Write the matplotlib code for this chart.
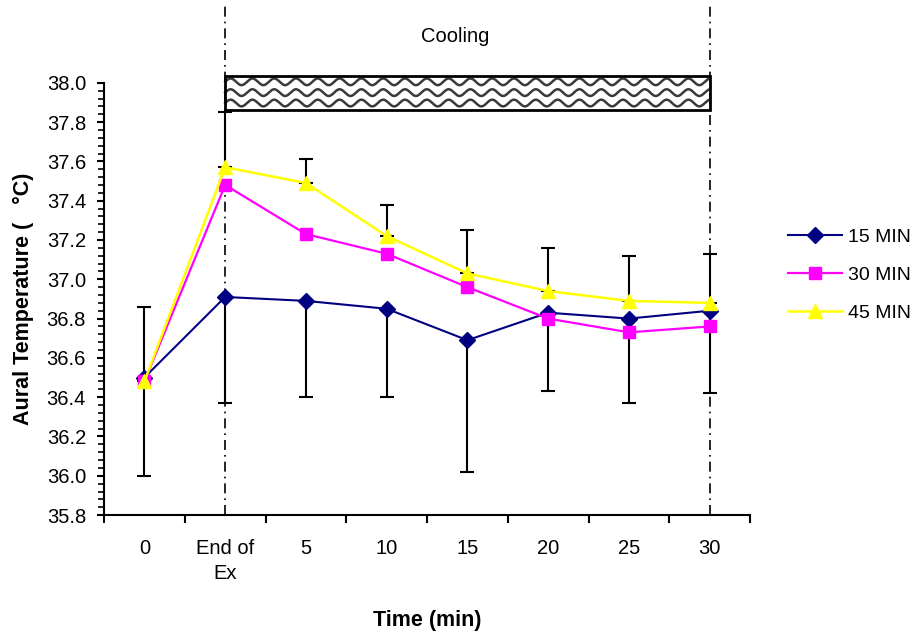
import numpy as np
import matplotlib
matplotlib.use("Agg")
import matplotlib.pyplot as plt
from matplotlib.patches import Rectangle

plt.rcParams['font.family'] = ['Liberation Sans', 'DejaVu Sans']

# Time points (categorical)
categories = ["0", "End of\nEx", "5", "10", "15", "20", "25", "30"]

# Aural temperature means (°C) for each cooling duration
temp_15 = [36.50, 36.91, 36.89, 36.85, 36.69, 36.83, 36.80, 36.84]
temp_30 = [36.48, 37.48, 37.23, 37.13, 36.96, 36.80, 36.73, 36.76]
temp_45 = [36.48, 37.57, 37.49, 37.22, 37.03, 36.94, 36.89, 36.88]

# Error bar ends: upper bars on 45 MIN, lower bars on 15 MIN
upper_45 = [36.86, 37.85, 37.61, 37.38, 37.25, 37.16, 37.12, 37.13]
lower_15 = [36.00, 36.37, 36.40, 36.40, 36.02, 36.43, 36.37, 36.42]

# Cooling period (category indices) and shaded band limits
cool_start, cool_end = 1, 7
band_low, band_high = 37.86, 38.035

x = np.arange(len(categories))

fig = plt.figure(figsize=(9.15, 6.32), dpi=100)
ax = fig.add_axes([0.1137, 0.185, 0.706, 0.684])

# error bars (drawn beneath the series)
up = np.array(upper_45) - np.array(temp_45)
ax.errorbar(x, temp_45, yerr=[np.zeros_like(up), up], fmt='none',
            ecolor='black', elinewidth=1.5, capsize=5, capthick=1.5, zorder=2)
dn = np.array(temp_15) - np.array(lower_15)
ax.errorbar(x, temp_15, yerr=[dn, np.zeros_like(dn)], fmt='none',
            ecolor='black', elinewidth=1.5, capsize=5, capthick=1.5, zorder=2)

l15, = ax.plot(x, temp_15, color='#000080', lw=1.5, marker='D', ms=8.5,
               mec='#000080', mfc='#000080', label='15 MIN', zorder=4)
l30, = ax.plot(x, temp_30, color='#FF00FF', lw=1.6, marker='s', ms=8,
               mec='#FF00FF', mfc='#FF00FF', label='30 MIN', zorder=4)
l45, = ax.plot(x, temp_45, color='#FFFF00', lw=1.8, marker='^', ms=10,
               mec='#FFFF00', mfc='#FFFF00', label='45 MIN', zorder=5)

ax.set_xlim(-0.5, len(categories) - 0.5)
ax.set_ylim(35.8, 38.0)

# cooling period markers
top_y = 38.40
for xv in (cool_start, cool_end):
    ax.plot([xv, xv], [35.8, top_y], color='black', lw=1.2,
            ls=(0, (6, 3, 1, 3)), clip_on=False, zorder=3)

ax.add_patch(Rectangle((cool_start, band_low), cool_end - cool_start,
                       band_high - band_low, fill=False, ec='black', lw=2,
                       clip_on=False, zorder=6))
# wavy fill of the cooling band
wx = np.linspace(cool_start, cool_end, 1200)
wave_len = 0.27
amp = 0.017
for row in (band_high - 0.030, band_high - 0.085, band_high - 0.138):
    ax.plot(wx, row + amp * np.sin(2 * np.pi * (wx - cool_start) / wave_len),
            color='#3a3a3a', lw=1.8, clip_on=False, zorder=5)

ax.text(3.85, 38.235, 'Cooling', ha='center', va='center', fontsize=14.5)

# axes styling
for s in ('top', 'right'):
    ax.spines[s].set_visible(False)
for s in ('left', 'bottom'):
    ax.spines[s].set_linewidth(1.5)

yt = np.arange(35.8, 38.01, 0.2)
ax.set_yticks(yt)
ax.set_yticklabels([f"{v:.1f}" for v in yt])
ax.set_yticks(np.arange(35.8, 38.01, 0.04), minor=True)
ax.tick_params(axis='y', which='major', direction='out', length=5, width=1.5,
               labelsize=14.5, pad=8)
ax.tick_params(axis='y', which='minor', direction='out', length=4, width=1.2)

ax.set_xticks(x)
ax.set_xticklabels(categories, linespacing=1.4)
ax.set_xticks(np.arange(-0.5, len(categories), 1.0), minor=True)
ax.tick_params(axis='x', which='major', length=0, labelsize=14.5, pad=17)
ax.tick_params(axis='x', which='minor', direction='out', length=6, width=1.5)

ax.set_xlabel('Time (min)', fontsize=15.5, fontweight='bold', va='center')
ax.xaxis.set_label_coords(0.5, -0.245)
ax.set_ylabel('Aural Temperature (   °C)', fontsize=15.5, fontweight='bold',
              va='center')
ax.yaxis.set_label_coords(-0.125, 0.5)

fig.legend(handles=[l15, l30, l45], loc='center left',
           bbox_to_anchor=(0.861, 0.565), frameon=False, fontsize=14,
           handlelength=2.8, labelspacing=1.05, handletextpad=0.3,
           borderaxespad=0, borderpad=0)

fig.savefig('out.png', dpi=100)
